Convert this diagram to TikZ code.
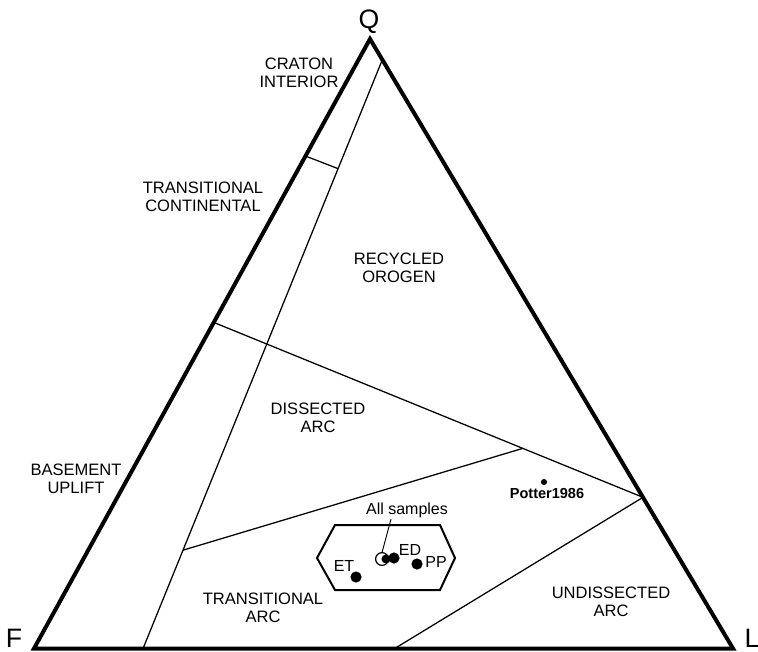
\documentclass[tikz,border=0pt]{standalone}
\usepackage{fontspec}
\setmainfont{Liberation Sans}
\usetikzlibrary{positioning, calc}

\begin{document}
\begin{tikzpicture}[x=0.75pt, y=-0.75pt,
    region/.style={align=center, font=\fontsize{12.4}{13.5}\selectfont},
    corner/.style={inner sep=0pt, font=\fontsize{20}{20}\selectfont},
    small/.style={inner sep=1pt, font=\fontsize{12}{13}\selectfont},
    edge/.style={line width=3pt},
    bound/.style={line width=0.95pt}]
    \useasboundingbox (0,0) rectangle (758,651);

    \coordinate (Q) at (370,39);
    \coordinate (F) at (34,648.5);
    \coordinate (L) at (733,648.5);

    \coordinate (ci) at ($(Q)!0.192!(F)$);
    \coordinate (ba) at ($(Q)!0.465!(F)$);
    \coordinate (t1) at ($(Q)!0.034!(L)$);
    \coordinate (lj) at ($(Q)!0.752!(L)$);
    \coordinate (t2) at ($(F)!0.156!(L)$);
    \coordinate (ud) at ($(F)!0.516!(L)$);
    \coordinate (tc) at ($(t1)!0.185!(t2)$);
    \coordinate (ta) at ($(t1)!0.833!(t2)$);
    \coordinate (da) at ($(ba)!0.72!(lj)$);

    \draw[bound] (t1) -- (t2);
    \draw[bound] (ci) -- (tc);
    \draw[bound] (ba) -- (lj);
    \draw[bound] (ta) -- (da);
    \draw[bound] (lj) -- (ud);

    \draw[edge] (Q) -- (F) -- (L) -- cycle;

    \node[corner] (qlab) at (369,22) {Q};
    \node[corner] (flab) at (14,638) {F};
    \node[corner] (llab) at (752,638) {L};

    \node[region] (craton) at (299,73) {CRATON\\INTERIOR};
    \node[region] (transcont) at (203,197) {TRANSITIONAL\\CONTINENTAL};
    \node[region] (recycled) at (399,268) {RECYCLED\\OROGEN};
    \node[region] (dissected) at (318,418) {DISSECTED\\ARC};
    \node[region] (basement) at (76,479) {BASEMENT\\UPLIFT};
    \node[region] (transarc) at (263,608) {TRANSITIONAL\\ARC};
    \node[region] (undissected) at (611,602) {UNDISSECTED\\ARC};

    \coordinate (h1) at (317,558);
    \coordinate (h2) at (335,525);
    \coordinate (h3) at (440,525);
    \coordinate (h4) at (455,558);
    \coordinate (h5) at (440,590);
    \coordinate (h6) at (335,590);
    \draw[line width=1.5pt] (h1) -- (h2) -- (h3) -- (h4) -- (h5) -- (h6) -- cycle;

    \coordinate (all) at (382,559);
    \coordinate (allin) at (386,559);
    \coordinate (et) at (356,577);
    \coordinate (ed) at (394,558);
    \coordinate (pp) at (417,564);
    \coordinate (pot) at (544,482);

    \draw[line width=0.9pt] (all) circle (4.8pt);
    \fill (allin) circle (3.4pt);
    \foreach \p in {et, ed, pp}
        \fill (\p) circle (4.2pt);
    \fill (pot) circle (2.3pt);

    \node[small] (allsmp) at (407,510) {All samples};
    \node[small] (etlab) at (344,566) {ET};
    \node[small] (edlab) at (410,550) {ED};
    \node[small] (pplab) at (436,562) {PP};
    \node[small, font=\bfseries\fontsize{10.9}{12}\selectfont] (potter) at (547,493) {Potter1986};

    \draw[line width=0.7pt] ([xshift=-12pt]allsmp.south) -- ([yshift=4.8pt]all);
\end{tikzpicture}
\end{document}
